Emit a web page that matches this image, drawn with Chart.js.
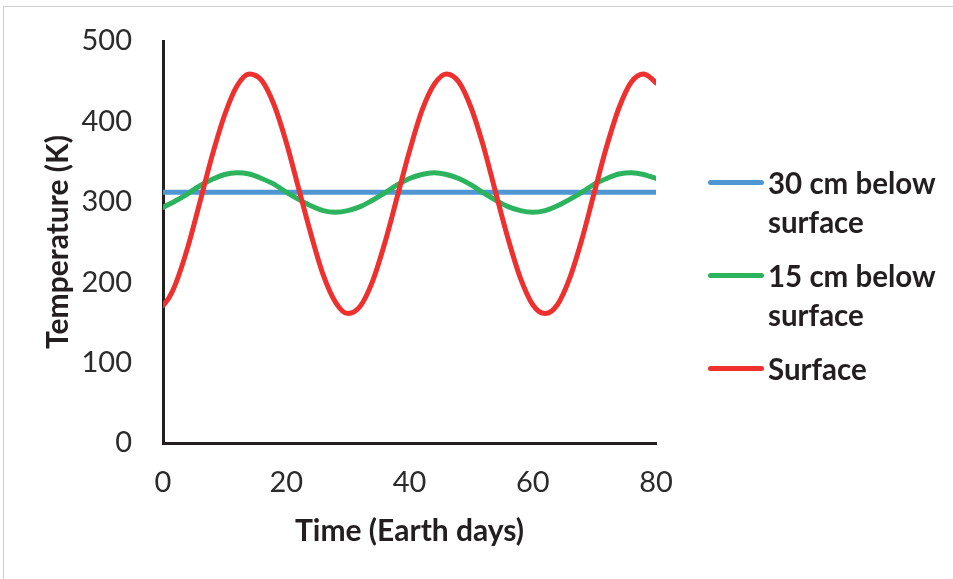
<!DOCTYPE html>
<html>
<head>
<meta charset="utf-8">
<script src="https://cdn.jsdelivr.net/npm/chart.js@4/dist/chart.umd.min.js"></script>
<style>
  html, body { margin: 0; padding: 0; background: #fff; }
  #wrap { position: relative; width: 953px; height: 579px; overflow: hidden; }
  #frame { position: absolute; left: 3px; top: 6px; right: -5px; bottom: -5px;
           border-left: 1.5px solid #cfcfcf; border-top: 1.5px solid #cfcfcf; }
  #chartBox { position: absolute; left: 0; top: 0; width: 953px; height: 579px; }
  #legend { position: absolute; left: 708px; top: 163px; font-family: Lato, sans-serif;
            font-weight: bold; font-size: 29.5px; line-height: 39px; color: #231f20; }
  .item { display: flex; align-items: flex-start; margin-bottom: 15px; }
  .sw { width: 56px; height: 5px; border-radius: 3px; margin-top: 17px; margin-right: 4px; flex: none; }
</style>
</head>
<body>
<div id="wrap">
  <div id="frame"></div>
  <div id="chartBox"><canvas id="c"></canvas></div>
  <div id="legend"></div>
</div>
<script>
// ---- data ----
const days = [0,1,2,4,6,8,10,12,14,16,18,20,22,24,26,28,30,32,34,36,38,40,
              42,44,46,48,50,52,54,56,58,60,62,64,66,68,70,72,74,76,78,79,80];
const temp30cm = [312,312,312,312,312,312,312,312,312,312,312,312,312,312,312,312,312,312,312,312,312,312,
                  312,312,312,312,312,312,312,312,312,312,312,312,312,312,312,312,312,312,312,312,312];
const temp15cm = [293,297,301,310,320,328,334,336,334.5,329,322,312,303,295,289,287,289,294,302,311,321,329,
                  334,336,334,329,321,311,302,294,289,287,289,295,303,312,322,329,334.5,336,334,331.5,329];
const tempSurface = [171,181,197,243,300,358,408,444,459,451,421,374,317,260,209,175,161,170,201,249,306,363,
                     413,446,459,449,417,369,311,254,205,172,161,172,205,254,312,369,417,449,459,455,448];
const seriesNames = [["30 cm below", "surface"], ["15 cm below", "surface"], ["Surface"]];
const seriesColors = ["#5096d2", "#2cb35e", "#ee312e"];
const xTicks = [0, 20, 40, 60, 80];
const yTicks = [0, 100, 200, 300, 400, 500];
const xTitle = "Time (Earth days)";
const yTitle = "Temperature (K)";

const toPts = arr => days.map((d, i) => ({ x: d, y: arr[i] }));
const allSeries = [temp30cm, temp15cm, tempSurface];

const datasets = allSeries.map((s, i) => ({
  label: seriesNames[i].join(" "),
  data: toPts(s),
  borderColor: seriesColors[i],
  backgroundColor: seriesColors[i],
  borderWidth: 5,
  borderCapStyle: 'round',
  borderJoinStyle: 'round',
  pointRadius: 0,
  cubicInterpolationMode: 'monotone',
  fill: false,
  order: 2 - i
}));

const tickFont = { family: 'Lato', size: 29, weight: 'normal' };
const titleFont = { family: 'Lato', size: 30, weight: 'bold' };

new Chart(document.getElementById('c'), {
  type: 'line',
  data: { datasets },
  options: {
    responsive: true,
    maintainAspectRatio: false,
    animation: false,
    layout: { padding: { left: 0, right: 297, top: 41, bottom: 0 } },
    plugins: { legend: { display: false }, tooltip: { enabled: false } },
    scales: {
      x: {
        type: 'linear', min: 0, max: 80,
        afterBuildTicks: s => { s.ticks = xTicks.map(v => ({ value: v })); },
        afterFit: s => { s.height = 136; s.paddingLeft = 0; s.paddingRight = 0; },
        grid: { display: false, drawTicks: false },
        border: { display: true, color: '#231f20', width: 3 },
        ticks: { font: tickFont, color: '#2b2b2b', padding: 22, maxRotation: 0 },
        title: { display: true, text: xTitle, font: titleFont, color: '#231f20',
                 padding: { top: 0, bottom: 30 } }
      },
      y: {
        type: 'linear', min: 0, max: 500,
        afterBuildTicks: s => { s.ticks = yTicks.map(v => ({ value: v })); },
        afterFit: s => { s.width = 163; s.paddingTop = 0; s.paddingBottom = 0; },
        grid: { display: false, drawTicks: false },
        border: { display: true, color: '#231f20', width: 3 },
        ticks: { font: tickFont, color: '#2b2b2b', padding: 31 },
        title: { display: true, text: yTitle, font: titleFont, color: '#231f20',
                 padding: { top: 40, bottom: 0 } }
      }
    }
  }
});

// legend (HTML, multi-line labels)
const lg = document.getElementById('legend');
seriesNames.forEach((lines, i) => {
  const item = document.createElement('div');
  item.className = 'item';
  const sw = document.createElement('div');
  sw.className = 'sw';
  sw.style.background = seriesColors[i];
  const tx = document.createElement('div');
  tx.innerHTML = lines.map(l => '<div>' + l + '</div>').join('');
  item.appendChild(sw); item.appendChild(tx);
  lg.appendChild(item);
});
</script>
</body>
</html>
